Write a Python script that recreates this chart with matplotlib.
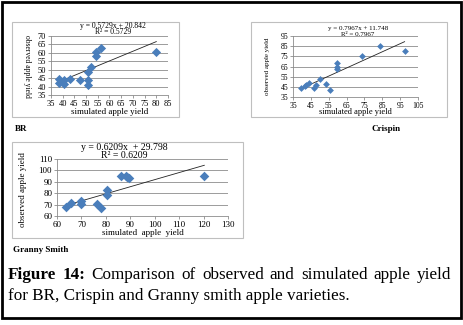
import numpy as np
import matplotlib
matplotlib.use('Agg')
import matplotlib.pyplot as plt
from matplotlib.patches import Rectangle

# данные
br_sim = [38.3, 38.3, 40.4, 40.4, 43.2, 47.2, 50.6, 50.6, 50.6, 52.0, 54.1, 54.1, 56.2, 80.0]
br_obs = [44.3, 42.0, 43.9, 41.5, 44.5, 43.7, 43.7, 40.8, 48.9, 51.8, 58.1, 60.3, 63.1, 60.7]
br_fit = (0.5729, 20.842)

cr_sim = [39.7, 41.5, 42.5, 44.0, 46.6, 47.7, 49.9, 53.7, 55.5, 59.6, 59.6, 59.6, 73.6, 83.5, 97.5]
cr_obs = [44.2, 45.5, 46.5, 48.8, 43.9, 46.5, 53.1, 47.5, 42.2, 68.6, 64.6, 63.0, 75.2, 85.4, 80.5]
cr_fit = (0.7967, 11.748)

gs_sim = [63.8, 65.9, 70.0, 70.0, 76.2, 78.2, 80.3, 80.3, 86.2, 88.2, 88.5, 89.5, 120.3]
gs_obs = [67.6, 71.5, 73.2, 70.6, 70.9, 67.1, 82.4, 78.5, 94.7, 95.3, 93.8, 93.2, 95.0]
gs_fit = (0.6209, 29.798)

W, H = 464, 325
fig = plt.figure(figsize=(W / 100, H / 100), dpi=100)
serif = 'Liberation Serif'
blue = '#4A7EBB'
grey = '#8C8C8C'


def ax_px(x0, y0, x1, y1):
    return fig.add_axes([x0 / W, 1 - y1 / H, (x1 - x0) / W, (y1 - y0) / H])


def box_px(x0, y0, x1, y1, color='#BFBFBF', lw=0.8):
    fig.patches.append(Rectangle((x0 / W, 1 - y1 / H), (x1 - x0) / W, (y1 - y0) / H,
                                 transform=fig.transFigure, fill=False,
                                 edgecolor=color, lw=lw))


def txt_px(x, y, s, **kw):
    return fig.text(x / W, 1 - y / H, s, **kw)


def panel(rect, sim, obs, fit, xlim, ylim, xt, yt, fs, ms):
    ax = ax_px(*rect)
    ax.scatter(sim, obs, marker='D', s=ms, color=blue, zorder=3, linewidths=0)
    xs = np.array([min(sim), max(sim)])
    ax.plot(xs, fit[0] * xs + fit[1], color='#222222', lw=0.6, zorder=2)
    ax.set_xlim(*xlim)
    ax.set_ylim(*ylim)
    ax.set_xticks(xt)
    ax.set_yticks(yt)
    ax.yaxis.grid(True, color=grey, lw=0.6)
    ax.set_axisbelow(True)
    for s in ['top', 'right']:
        ax.spines[s].set_visible(False)
    for s in ['left', 'bottom']:
        ax.spines[s].set_color(grey)
        ax.spines[s].set_linewidth(0.6)
    ax.tick_params(length=2, width=0.6, color=grey, pad=1.5, labelsize=fs)
    for lab in ax.get_xticklabels() + ax.get_yticklabels():
        lab.set_fontfamily(serif)
    return ax


# BR
box_px(12, 22, 179, 117)
panel((51, 36, 168, 95), br_sim, br_obs, br_fit, (35, 85), (35, 70),
      np.arange(35, 86, 5), np.arange(35, 71, 5), 6, 22)
txt_px(113, 26, 'y = 0.5729x + 20.842', ha='center', va='center', fontsize=5.5, family=serif)
txt_px(113, 32.5, 'R² = 0.5729', ha='center', va='center', fontsize=5.5, family=serif)
txt_px(110, 111.5, 'simulated apple yield', ha='center', va='center', fontsize=6.5, family=serif)
txt_px(27, 66, 'observed apple yield', ha='center', va='center', fontsize=5.5,
       family=serif, rotation=270)
txt_px(15, 129, 'BR', ha='left', va='center', fontsize=6.5, family=serif, weight='bold')

# Crispin
box_px(251, 22, 447, 117)
panel((293, 36, 418, 97), cr_sim, cr_obs, cr_fit, (35, 105), (35, 95),
      np.arange(35, 106, 10), np.arange(35, 96, 10), 5.5, 12)
txt_px(358, 28.5, 'y = 0.7967x + 11.748', ha='center', va='center', fontsize=5, family=serif)
txt_px(358, 34, 'R² = 0.7967', ha='center', va='center', fontsize=5, family=serif)
txt_px(355, 112.5, 'simulated apple yield', ha='center', va='center', fontsize=6, family=serif)
txt_px(267, 66, 'observed apple yield', ha='center', va='center', fontsize=5,
       family=serif, rotation=90)
txt_px(372, 129, 'Crispin', ha='left', va='center', fontsize=6.5, family=serif, weight='bold')

# Granny Smith
box_px(12, 142, 243, 238)
panel((57, 159, 228, 216), gs_sim, gs_obs, gs_fit, (60, 130), (60, 110),
      np.arange(60, 131, 10), np.arange(60, 111, 10), 6.5, 24)
txt_px(124, 147, 'y = 0.6209x  + 29.798', ha='center', va='center', fontsize=7, family=serif)
txt_px(124, 155, 'R² = 0.6209', ha='center', va='center', fontsize=7, family=serif)
txt_px(143, 233, 'simulated  apple  yield', ha='center', va='center', fontsize=6.5, family=serif)
txt_px(23, 190, 'observed apple yield', ha='center', va='center', fontsize=6.5,
       family=serif, rotation=90)
txt_px(13, 250, 'Granny Smith', ha='left', va='center', fontsize=6.5, family=serif, weight='bold')

# подпись рисунка, первая строка по ширине
words = ['Figure', '14:', 'Comparison', 'of', 'observed', 'and', 'simulated', 'apple', 'yield']
bold = [True, True] + [False] * 7
cap_fs = 12.3
rend = fig.canvas.get_renderer()
items = []
for w, b in zip(words, bold):
    t = txt_px(0, 275, w, ha='left', va='center', fontsize=cap_fs, family=serif,
               weight='bold' if b else 'normal')
    items.append(t)
widths = [t.get_window_extent(rend).width for t in items]
left, right = 8, 451
gap = (right - left - sum(widths)) / (len(words) - 1)
x = left
for t, w in zip(items, widths):
    t.set_x(x / W)
    x += w + gap
txt_px(left, 296, 'for BR, Crispin and Granny smith apple varieties.', ha='left',
       va='center', fontsize=cap_fs, family=serif)

# внешняя рамка
box_px(2, 2, 461, 318, color='black', lw=2)

plt.savefig('out.png', dpi=100)
